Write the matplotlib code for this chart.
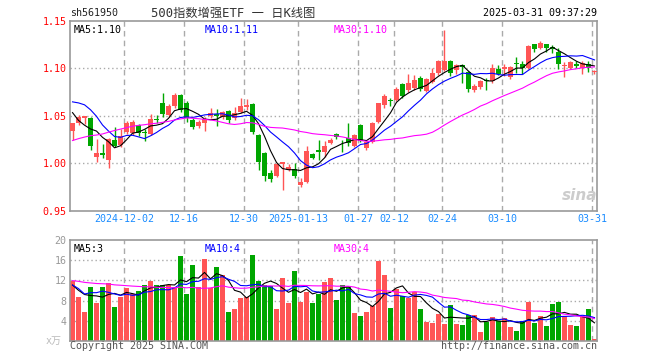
import pandas as pd
import matplotlib
matplotlib.use("Agg")
import matplotlib.pyplot as plt

plt.rcParams['font.family'] = ['DejaVu Sans Mono', 'Noto Sans CJK SC']

# daily bars 2024-11-19 .. 2025-03-31
opens = [1.034, 1.043, 1.048, 1.048, 1.007, 1.011, 1.004, 1.025, 1.019, 1.033,
         1.032, 1.040, 1.033, 1.031, 1.047, 1.064, 1.051, 1.060, 1.072, 1.064,
         1.046, 1.039, 1.042, 1.050, 1.052, 1.049, 1.055, 1.048, 1.054, 1.059,
         1.062, 1.030, 1.011, 0.990, 0.987, 0.999, 0.993, 0.994, 0.977, 0.980,
         1.010, 1.014, 1.012, 1.021, 1.031, 1.023, 1.027, 1.018, 1.040, 1.016,
         1.023, 1.044, 1.061, 1.067, 1.067, 1.083, 1.077, 1.079, 1.090, 1.076,
         1.086, 1.095, 1.098, 1.108, 1.098, 1.103, 1.096, 1.077, 1.080, 1.088,
         1.087, 1.099, 1.099, 1.091, 1.106, 1.104, 1.100, 1.125, 1.121, 1.125,
         1.122, 1.117, 1.102, 1.100, 1.105, 1.100, 1.105, 1.096]
highs = [1.043, 1.051, 1.050, 1.049, 1.026, 1.020, 1.027, 1.038, 1.036, 1.045,
         1.046, 1.041, 1.036, 1.052, 1.051, 1.074, 1.062, 1.074, 1.073, 1.066,
         1.048, 1.046, 1.049, 1.058, 1.057, 1.055, 1.056, 1.059, 1.069, 1.068,
         1.063, 1.031, 1.012, 0.993, 1.000, 1.002, 0.999, 1.000, 0.985, 1.018,
         1.011, 1.025, 1.024, 1.027, 1.032, 1.025, 1.042, 1.031, 1.041, 1.024,
         1.044, 1.064, 1.073, 1.069, 1.080, 1.084, 1.094, 1.093, 1.092, 1.090,
         1.100, 1.109, 1.140, 1.109, 1.105, 1.105, 1.097, 1.083, 1.088, 1.090,
         1.104, 1.103, 1.104, 1.102, 1.112, 1.108, 1.124, 1.126, 1.129, 1.125,
         1.124, 1.121, 1.107, 1.108, 1.108, 1.108, 1.108, 1.098]
lows = [1.025, 1.040, 1.041, 1.014, 1.002, 1.006, 0.995, 1.017, 1.017, 1.031,
        1.030, 1.029, 1.024, 1.030, 1.042, 1.049, 1.049, 1.058, 1.054, 1.044,
        1.036, 1.037, 1.034, 1.048, 1.039, 1.047, 1.042, 1.046, 1.053, 1.056,
        1.031, 0.993, 0.982, 0.980, 0.986, 0.972, 0.992, 0.985, 0.975, 0.979,
        1.005, 1.004, 1.007, 1.020, 1.026, 1.012, 1.018, 1.017, 1.022, 1.014,
        1.021, 1.043, 1.058, 1.060, 1.066, 1.069, 1.075, 1.077, 1.076, 1.075,
        1.085, 1.093, 1.097, 1.092, 1.094, 1.084, 1.075, 1.075, 1.078, 1.077,
        1.085, 1.093, 1.092, 1.089, 1.095, 1.094, 1.099, 1.117, 1.120, 1.117,
        1.116, 1.099, 1.091, 1.099, 1.100, 1.094, 1.096, 1.094]
closes = [1.042, 1.049, 1.050, 1.018, 1.011, 1.009, 1.026, 1.018, 1.029, 1.042,
          1.044, 1.032, 1.032, 1.047, 1.046, 1.052, 1.060, 1.072, 1.056, 1.048,
          1.038, 1.044, 1.047, 1.053, 1.050, 1.054, 1.046, 1.053, 1.060, 1.061,
          1.033, 1.002, 0.987, 0.984, 0.999, 1.001, 0.996, 0.987, 0.980, 1.013,
          1.006, 1.012, 1.018, 1.025, 1.028, 1.022, 1.021, 1.030, 1.024, 1.023,
          1.043, 1.063, 1.071, 1.066, 1.078, 1.071, 1.084, 1.088, 1.078, 1.089,
          1.095, 1.108, 1.108, 1.095, 1.103, 1.101, 1.078, 1.081, 1.087, 1.087,
          1.100, 1.094, 1.101, 1.101, 1.105, 1.100, 1.123, 1.120, 1.127, 1.121,
          1.120, 1.105, 1.103, 1.107, 1.102, 1.106, 1.100, 1.097]
# volume, x 10k
volume = [11.8, 8.8, 5.8, 10.6, 7.6, 10.6, 11.5, 6.8, 8.8, 10.4,
          9.4, 10.0, 11.0, 11.8, 11.1, 11.0, 11.0, 10.6, 16.8, 9.4,
          15.0, 10.6, 16.2, 10.4, 14.6, 13.0, 5.8, 6.4, 8.6, 8.8,
          17.0, 11.8, 11.0, 10.8, 6.4, 12.4, 7.6, 13.8, 7.8, 9.8,
          7.6, 9.4, 11.6, 12.4, 8.2, 11.0, 10.6, 5.6, 5.0, 5.8,
          7.0, 15.8, 13.0, 6.6, 10.2, 9.0, 8.6, 9.8, 6.4, 3.8,
          3.6, 5.4, 3.4, 7.2, 3.4, 3.2, 5.2, 5.2, 1.8, 3.8,
          4.8, 4.0, 4.6, 2.8, 2.0, 4.0, 7.8, 3.6, 5.0, 3.0,
          7.4, 7.8, 5.0, 3.2, 3.0, 4.8, 6.4, 0.4]

# the 29 sessions before the window are not drawn, but the moving
# averages need them; estimated from where the MA lines start
prior_close = [0.990, 1.000, 0.975, 0.990, 0.975, 0.970, 0.965, 0.985, 0.995, 1.000,
               1.005, 1.012, 1.018, 1.028, 1.022, 1.032, 1.028, 1.022, 1.018, 1.045,
               1.060, 1.070, 1.070, 1.080, 1.100, 1.090, 1.075, 1.038, 1.022]
prior_volume = [13, 12, 14, 11, 12, 13, 12, 11, 13, 12,
                12, 13, 12, 14, 12, 11, 13, 12, 14, 12,
                16, 16.6, 8, 7.5, 7.5, 14, 10, 11.6, 8.0]

date_idx = [9, 19, 29, 38, 48, 54, 62, 72, 87]
date_lbl = ["2024-12-02", "12-16", "12-30", "2025-01-13", "01-27",
            "02-12", "02-24", "03-10", "03-31"]

RED = "#ff5555"
GREEN = "#00a600"
GRID = "#aaaaaa"
FRAME = "#999999"
n = len(closes)
x = list(range(n))
colors = [RED if c >= o else GREEN for o, c in zip(opens, closes)]

cl = pd.Series(prior_close + closes)
vo = pd.Series(prior_volume + volume)
k = len(prior_close)
ma_cols = [(5, "black"), (10, "#0000ff"), (30, "#ff00ff")]

fig = plt.figure(figsize=(6.6, 3.6), dpi=100)
ax = fig.add_axes([70/660, 149/360, 527/660, 190.3/360])
axv = fig.add_axes([70/660, 19.3/360, 527/660, 100.4/360])

for a in (ax, axv):
    for s in a.spines.values():
        s.set_color(FRAME)
        s.set_linewidth(1.2)
    for i in date_idx:
        a.axvline(i - 0.4, color=GRID, lw=1, ls=(0, (4, 3)), zorder=0)
    a.set_xlim(-0.42, n - 0.58)

# price panel
for lv in [1.00, 1.05, 1.10]:
    ax.axhline(lv, color=GRID, lw=1, ls=(0, (1, 2)), zorder=0)
ax.vlines(x, lows, highs, colors=colors, lw=1, zorder=2)
body_lo = [min(o, c) for o, c in zip(opens, closes)]
body_h = [max(abs(c - o), 0.0007) for o, c in zip(opens, closes)]
ax.bar(x, body_h, bottom=body_lo, width=0.8, color=colors, lw=0, zorder=3)
for w, col in ma_cols:
    ax.plot(x, cl.rolling(w).mean().iloc[k:].values, color=col, lw=0.8, zorder=4)
ax.set_ylim(0.95, 1.15)
ax.set_yticks([0.95, 1.00, 1.05, 1.10, 1.15])
ax.set_yticklabels(["0.95", "1.00", "1.05", "1.10", "1.15"], color="#ff0000", fontsize=7.2)
ax.set_xticks([i - 0.4 for i in date_idx])
ax.set_xticklabels(date_lbl, color="#1a8cff", fontsize=7.2)
ax.tick_params(length=0, pad=2.5)

ax.text(0.006, 0.975, "MA5:1.10", transform=ax.transAxes, fontsize=7.2, color="black", va="top")
ax.text(0.255, 0.975, "MA10:1.11", transform=ax.transAxes, fontsize=7.2, color="#0000ff", va="top")
ax.text(0.500, 0.975, "MA30:1.10", transform=ax.transAxes, fontsize=7.2, color="#ff00ff", va="top")
ax.text(1.0, 0.06, "sina", transform=ax.transAxes, fontsize=11, color="#cccccc",
        style="italic", weight="bold", ha="right", family="DejaVu Sans")

# volume panel
for lv in [4, 8, 12, 16]:
    axv.axhline(lv, color=GRID, lw=1, ls=(0, (1, 2)), zorder=0)
axv.bar(x, volume, width=0.8, color=colors, lw=0, zorder=2)
for w, col in ma_cols:
    axv.plot(x, vo.rolling(w).mean().iloc[k:].values, color=col, lw=0.8, zorder=4)
axv.set_ylim(0, 20)
axv.set_yticks([4, 8, 12, 16, 20])
axv.set_yticklabels(["4", "8", "12", "16", "20"], color="#999999", fontsize=7.2)
axv.set_xticks([])
axv.tick_params(length=0, pad=2.5)
axv.text(-0.015, 0.0, "x万", transform=axv.transAxes, fontsize=7.2, color="#bbbbbb",
         ha="right", va="center")
axv.text(0.006, 0.965, "MA5:3", transform=axv.transAxes, fontsize=7.2, color="black", va="top")
axv.text(0.255, 0.965, "MA10:4", transform=axv.transAxes, fontsize=7.2, color="#0000ff", va="top")
axv.text(0.500, 0.965, "MA30:4", transform=axv.transAxes, fontsize=7.2, color="#ff00ff", va="top")

# header / footer
fig.text(70/660, 1 - 13/360, "sh561950", fontsize=7.2, color="#222222", va="center")
fig.text(233/660, 1 - 13/360, "500指数增强ETF 一 日K线图", fontsize=8.8, color="#333333",
         va="center", ha="center")
fig.text(597/660, 1 - 13/360, "2025-03-31 09:37:29", fontsize=7.2, color="black",
         va="center", ha="right")
fig.text(70/660, 1 - 346/360, "Copyright 2025 SINA.COM", fontsize=7.2, color="#555555", va="center")
fig.text(597/660, 1 - 346/360, "http://finance.sina.com.cn", fontsize=7.2, color="#555555",
         va="center", ha="right")

fig.savefig("out.png", dpi=100, facecolor="white")
